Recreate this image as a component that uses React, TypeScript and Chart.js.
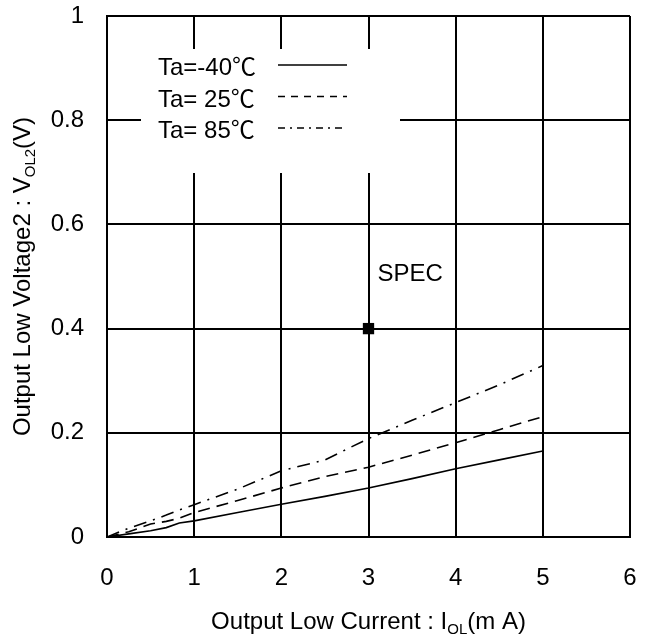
import React, { useEffect, useRef } from "react";
import { Chart, registerables } from "chart.js";

Chart.register(...registerables);

// Output current I_OL (mA) sample points
const currentMA = [0, 0.25, 0.5, 0.68, 0.83, 1, 1.5, 2, 2.5, 3, 3.5, 4, 4.5, 5];

// Output low voltage V_OL2 (V) per ambient temperature
const voltsMinus40 = [0, 0.006, 0.012, 0.018, 0.027, 0.031, 0.047, 0.063, 0.078, 0.094, 0.112, 0.131, 0.148, 0.165];
const volts25 = [0, 0.01, 0.025, 0.03, 0.036, 0.047, 0.07, 0.094, 0.116, 0.134, 0.157, 0.181, 0.206, 0.231];
const volts85 = [0, 0.017, 0.031, 0.042, 0.052, 0.062, 0.092, 0.127, 0.148, 0.189, 0.224, 0.258, 0.292, 0.329];

const legendLabels = ["Ta=-40℃", "Ta= 25℃", "Ta= 85℃"];

// Specification point
const specCurrent = [3];
const specVoltage = [0.4];
const specLabel = "SPEC";

const xTickValues = [0, 1, 2, 3, 4, 5, 6];
const yTickValues = [0, 0.2, 0.4, 0.6, 0.8, 1];

const FONT_FAMILY = '"Liberation Sans", Arial, sans-serif';
const CJK_FAMILY = '"Noto Sans CJK JP", sans-serif';
const FONT_SIZE = 24;

const solidDash: number[] = [];
const dashedDash = [12, 7];
const dashDotDash = [13, 7, 2, 7];

type Part = { text: string; sub?: boolean; cjk?: boolean };

function partFont(p: Part) {
  if (p.sub) return `15px ${FONT_FAMILY}`;
  if (p.cjk) return `${FONT_SIZE}px ${CJK_FAMILY}`;
  return `${FONT_SIZE}px ${FONT_FAMILY}`;
}

// Splits the degree-Celsius sign out so it uses the CJK face
function splitCelsius(s: string): Part[] {
  return s.split(/(℃)/).filter((t) => t.length > 0).map((t) => ({ text: t, cjk: t === "℃" }));
}

function drawRich(ctx: CanvasRenderingContext2D, parts: Part[], x0: number, y: number, align: "left" | "center") {
  let total = 0;
  const widths = parts.map((p) => {
    ctx.font = partFont(p);
    const w = ctx.measureText(p.text).width;
    total += w;
    return w;
  });
  let x = align === "center" ? x0 - total / 2 : x0;
  ctx.textBaseline = "alphabetic";
  ctx.textAlign = "left";
  parts.forEach((p, i) => {
    ctx.font = partFont(p);
    ctx.fillText(p.text, x, y + (p.sub ? 5 : 0));
    x += widths[i];
  });
}

const annotationPlugin = {
  id: "annotations",
  afterDraw(chart: any) {
    const ctx: CanvasRenderingContext2D = chart.ctx;
    const area = chart.chartArea;
    const xs = chart.scales.x;
    const ys = chart.scales.y;
    ctx.save();
    ctx.fillStyle = "#000";

    // axis titles
    drawRich(
      ctx,
      [{ text: "Output Low Current : I" }, { text: "OL", sub: true }, { text: "(m A)" }],
      (area.left + area.right) / 2,
      629,
      "center"
    );
    ctx.save();
    ctx.translate(30, (area.top + area.bottom) / 2);
    ctx.rotate(-Math.PI / 2);
    drawRich(
      ctx,
      [{ text: "Output Low Voltage2 : V" }, { text: "OL2", sub: true }, { text: "(V)" }],
      0,
      0,
      "center"
    );
    ctx.restore();

    // SPEC label
    drawRich(
      ctx,
      [{ text: specLabel }],
      xs.getPixelForValue(specCurrent[0]) + 9,
      ys.getPixelForValue(specVoltage[0]) - 48,
      "left"
    );

    // legend panel
    const boxL = area.left + 34;
    const boxT = area.top + 33;
    ctx.fillStyle = "#fff";
    ctx.fillRect(boxL, boxT, 259, 124);
    ctx.fillStyle = "#000";
    const dashes = [solidDash, [7, 6], [7, 5, 2, 5]];
    legendLabels.forEach((label, i) => {
      const base = boxT + 26 + i * 31.5;
      drawRich(ctx, splitCelsius(label), boxL + 17, base, "left");
      ctx.beginPath();
      ctx.setLineDash(dashes[i]);
      ctx.lineWidth = 1.6;
      ctx.strokeStyle = "#000";
      ctx.moveTo(boxL + 137, base - 10);
      ctx.lineTo(boxL + 206, base - 10);
      ctx.stroke();
    });
    ctx.setLineDash([]);
    ctx.restore();
  },
};

export default function App() {
  const canvasRef = useRef<HTMLCanvasElement | null>(null);

  useEffect(() => {
    if (!canvasRef.current) return;
    const toPoints = (xs: number[], ys: number[]) => xs.map((x, i) => ({ x, y: ys[i] }));
    const curve = (label: string, ys: number[], dash: number[]) => ({
      label,
      data: toPoints(currentMA, ys),
      showLine: true,
      borderColor: "#000",
      borderWidth: 1.6,
      borderDash: dash,
      pointRadius: 0,
      tension: 0,
      fill: false,
    });

    const chart = new Chart(canvasRef.current, {
      type: "scatter",
      data: {
        datasets: [
          curve(legendLabels[0], voltsMinus40, solidDash),
          curve(legendLabels[1], volts25, dashedDash),
          curve(legendLabels[2], volts85, dashDotDash),
          {
            label: specLabel,
            data: toPoints(specCurrent, specVoltage),
            pointStyle: "rect",
            pointRadius: 8,
            backgroundColor: "#000",
            borderColor: "#000",
            borderWidth: 0,
            showLine: false,
          } as any,
        ],
      },
      options: {
        animation: false,
        responsive: false,
        devicePixelRatio: 1,
        layout: { padding: { top: 16, right: 22, left: 0, bottom: 0 } },
        plugins: { legend: { display: false }, tooltip: { enabled: false } },
        scales: {
          x: {
            type: "linear",
            min: 0,
            max: 6,
            afterBuildTicks: (s: any) => {
              s.ticks = xTickValues.map((v) => ({ value: v }));
            },
            afterFit: (s: any) => {
              s.height = 99;
              s.paddingLeft = 0;
              s.paddingRight = 0;
              s.paddingTop = 0;
              s.paddingBottom = 0;
            },
            ticks: {
              color: "#000",
              font: { family: FONT_FAMILY, size: FONT_SIZE },
              padding: 27,
              maxRotation: 0,
            },
            grid: { color: "#000", lineWidth: 2, drawTicks: false },
            border: { color: "#000", width: 2 },
          },
          y: {
            type: "linear",
            min: 0,
            max: 1,
            afterBuildTicks: (s: any) => {
              s.ticks = yTickValues.map((v) => ({ value: v }));
            },
            afterFit: (s: any) => {
              s.width = 107;
              s.paddingLeft = 0;
              s.paddingRight = 0;
              s.paddingTop = 0;
              s.paddingBottom = 0;
            },
            ticks: {
              color: "#000",
              font: { family: FONT_FAMILY, size: FONT_SIZE },
              padding: 23,
              callback: (v: any) => String(v),
            },
            grid: { color: "#000", lineWidth: 2, drawTicks: false },
            border: { color: "#000", width: 2 },
          },
        },
      },
      plugins: [annotationPlugin],
    });
    return () => chart.destroy();
  }, []);

  return (
    <div style={{ position: "fixed", left: 0, top: 0, width: 652, height: 636, background: "#fff" }}>
      <canvas ref={canvasRef} width={652} height={636} style={{ display: "block" }} />
    </div>
  );
}
